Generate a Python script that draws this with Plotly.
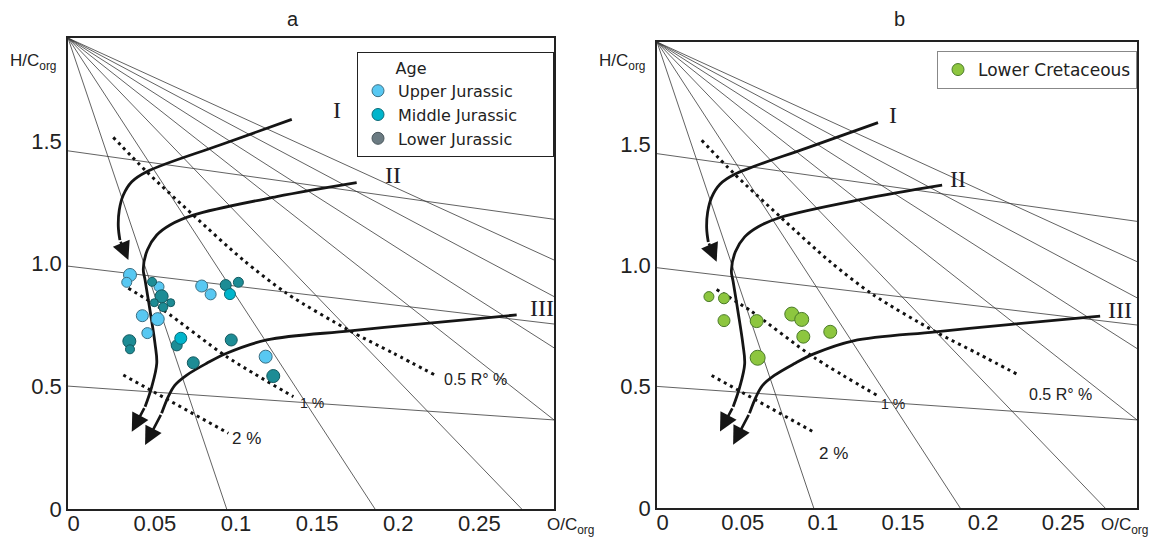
import plotly.graph_objects as go

# ---------------- data ----------------
X_RANGE = [-0.0035, 0.296]
Y_RANGE = [0.0, 1.92]
X_TICKS = [0, 0.05, 0.1, 0.15, 0.2, 0.25]
X_TICKTEXT = ["0", "0.05", "0.1", "0.15", "0.2", "0.25"]
Y_TICKS = [0, 0.5, 1.0, 1.5]
Y_TICKTEXT = ["0", "0.5", "1.0", "1.5"]

# panel a samples (O/C, H/C)
UPPER_X = [0.0347, 0.0327, 0.0526, 0.0789, 0.0844, 0.0423, 0.0518, 0.0454, 0.1183]
UPPER_Y = [0.954, 0.924, 0.906, 0.909, 0.875, 0.788, 0.774, 0.717, 0.621]
UPPER_S = [13, 10, 10, 12, 11, 12, 13, 11, 13]
MIDDLE_X = [0.0963, 0.0660]
MIDDLE_Y = [0.876, 0.696]
MIDDLE_S = [11, 12]
LOWER_X = [0.0483, 0.0542, 0.0497, 0.0552, 0.0598, 0.0937, 0.1015, 0.0343, 0.0347, 0.0635, 0.0971, 0.0737, 0.1230]
LOWER_Y = [0.926, 0.867, 0.841, 0.823, 0.841, 0.913, 0.924, 0.684, 0.651, 0.667, 0.689, 0.596, 0.542]
LOWER_S = [9, 13, 8, 9, 8, 11, 10, 13, 9, 11, 12, 12, 13]

# panel b samples
CRET_X = [0.0289, 0.0383, 0.0383, 0.0587, 0.0806, 0.0868, 0.0878, 0.1046, 0.0593]
CRET_Y = [0.871, 0.864, 0.772, 0.770, 0.799, 0.777, 0.706, 0.726, 0.619]
CRET_S = [10, 11, 12, 13, 14, 14, 13, 13, 15]

# background diagram: rays from the upper-left corner
RAY_END_X = [0.0943, 0.1857, 0.2761, 0.296, 0.296, 0.296, 0.296]
RAY_END_Y = [0.0, 0.0, 0.0, 0.363, 0.657, 0.866, 1.015]
# near-horizontal iso-lines (left y, right y)
ISO_Y_LEFT = [1.460, 0.990, 0.501]
ISO_Y_RIGHT = [1.181, 0.754, 0.363]

# evolution paths I, II, III (last point = arrow tip)
PATH_I_X = [0.1344, 0.0902, 0.0450, 0.0358, 0.0306, 0.0281, 0.0275, 0.0285, 0.0337]
PATH_I_Y = [1.588, 1.484, 1.375, 1.334, 1.280, 1.219, 1.151, 1.096, 1.015]
PATH_II_X = [0.1744, 0.1251, 0.0737, 0.0594, 0.0512, 0.0454, 0.0429, 0.0440, 0.0470, 0.0501, 0.0512, 0.0481, 0.0440, 0.0358]
PATH_II_Y = [1.330, 1.273, 1.198, 1.158, 1.117, 1.056, 0.977, 0.933, 0.811, 0.675, 0.594, 0.498, 0.417, 0.315]
PATH_III_X = [0.2730, 0.2176, 0.1703, 0.1190, 0.0943, 0.0820, 0.0697, 0.0624, 0.0583, 0.0542, 0.0440]
PATH_III_Y = [0.791, 0.757, 0.726, 0.689, 0.635, 0.594, 0.546, 0.505, 0.458, 0.390, 0.261]

# vitrinite reflectance iso-lines (dotted)
RO05_X = [0.0244, 0.0450, 0.0737, 0.1045, 0.1313, 0.1703, 0.1970, 0.2227]
RO05_Y = [1.515, 1.375, 1.198, 1.015, 0.879, 0.726, 0.635, 0.546]
RO1_X = [0.0337, 0.0552, 0.0943, 0.1354]
RO1_Y = [0.900, 0.811, 0.621, 0.458]
RO2_X = [0.0306, 0.0953]
RO2_Y = [0.546, 0.309]

PATH_LABELS = ["I", "II", "III"]
PATH_LABEL_A = [(0.1621, 1.626), (0.1970, 1.361), (0.2884, 0.818)]
PATH_LABEL_B = [(0.1436, 1.620), (0.1845, 1.354), (0.2854, 0.816)]
RO_LABELS = ["0.5 R° %", "1 %", "2 %"]
RO_LABEL_A = [(0.2268, 0.526), (0.1467, 0.431), (0.1066, 0.288)]
RO_LABEL_B = [(0.2272, 0.466), (0.1440, 0.428), (0.1065, 0.225)]
RO_LABEL_SIZE = [16, 14, 17]

LEGEND_A_NAMES = ["Upper Jurassic", "Middle Jurassic", "Lower Jurassic"]
LEGEND_B_NAME = "Lower Cretaceous"

# ---------------- styles ----------------
C_UPPER, C_UPPER_LN = "#58C8F2", "#3B6E82"
C_MIDDLE, C_MIDDLE_LN = "#00B5CC", "#0B6A78"
C_LOWER, C_LOWER_LN = "#1D8C95", "#145A60"
C_LOWER_LEG = "#6B7B82"
C_CRET, C_CRET_LN = "#8DC63F", "#4B7A2A"
SANS = "Liberation Sans, Arial, sans-serif"
SERIF = "Liberation Serif, Times New Roman, serif"
LEGF = "DejaVu Sans, Verdana, sans-serif"

W, H = 1151, 539
DOM_A = ([68 / W, 554 / W], [30 / H, 501 / H])
DOM_B = ([657 / W, 1137 / W], [31 / H, 497 / H])

fig = go.Figure()


def add_diagram(xa, ya):
    rx, ry = [], []
    for ex, ey in zip(RAY_END_X, RAY_END_Y):
        rx += [X_RANGE[0], ex, None]
        ry += [Y_RANGE[1], ey, None]
    for yl, yr in zip(ISO_Y_LEFT, ISO_Y_RIGHT):
        rx += [X_RANGE[0], X_RANGE[1], None]
        ry += [yl, yr, None]
    fig.add_trace(go.Scatter(x=rx, y=ry, mode="lines", xaxis=xa, yaxis=ya,
                             line=dict(color="#3a3a3a", width=0.8),
                             showlegend=False, hoverinfo="skip"))
    for dx, dy in [(RO05_X, RO05_Y), (RO1_X, RO1_Y), (RO2_X, RO2_Y)]:
        fig.add_trace(go.Scatter(x=dx, y=dy, mode="lines", xaxis=xa, yaxis=ya,
                                 line=dict(color="#111", width=3, dash="3px,4px",
                                           shape="spline", smoothing=0.8),
                                 showlegend=False, hoverinfo="skip"))
    for px, py in [(PATH_I_X, PATH_I_Y), (PATH_II_X, PATH_II_Y), (PATH_III_X, PATH_III_Y)]:
        fig.add_trace(go.Scatter(x=px[:-1], y=py[:-1], mode="lines", xaxis=xa, yaxis=ya,
                                 line=dict(color="#151515", width=2.8,
                                           shape="spline", smoothing=1.0),
                                 showlegend=False, hoverinfo="skip"))
        fig.add_annotation(x=px[-1], y=py[-1], ax=px[-2], ay=py[-2],
                           xref=xa, yref=ya, axref=xa, ayref=ya, text="",
                           showarrow=True, arrowhead=2, arrowsize=1.4,
                           arrowwidth=2.6, arrowcolor="#151515", standoff=0)


def add_labels(xa, ya, path_pos, ro_pos):
    for t, (lx, ly) in zip(PATH_LABELS, path_pos):
        fig.add_annotation(x=lx, y=ly, xref=xa, yref=ya, text=t, showarrow=False,
                           xanchor="center", yanchor="middle",
                           font=dict(family=SERIF, size=24, color="#222"))
    for i, (t, (lx, ly)) in enumerate(zip(RO_LABELS, ro_pos)):
        fig.add_annotation(x=lx, y=ly, xref=xa, yref=ya, text=t, showarrow=False,
                           xanchor="left" if i == 0 else "center", yanchor="middle",
                           font=dict(family=SANS, size=RO_LABEL_SIZE[i], color="#222"))


def add_points(xs, ys, ss, fill, ln, xa, ya, name):
    fig.add_trace(go.Scatter(x=xs, y=ys, mode="markers", xaxis=xa, yaxis=ya, name=name,
                             marker=dict(size=ss, color=fill, opacity=1,
                                         line=dict(color=ln, width=1)),
                             showlegend=False))


# panel a
add_diagram("x", "y")
add_points(UPPER_X, UPPER_Y, UPPER_S, C_UPPER, C_UPPER_LN, "x", "y", LEGEND_A_NAMES[0])
add_points(LOWER_X, LOWER_Y, LOWER_S, C_LOWER, C_LOWER_LN, "x", "y", LEGEND_A_NAMES[2])
add_points(MIDDLE_X, MIDDLE_Y, MIDDLE_S, C_MIDDLE, C_MIDDLE_LN, "x", "y", LEGEND_A_NAMES[1])
for i, (col, lc) in enumerate([(C_UPPER, C_UPPER_LN), (C_MIDDLE, C_MIDDLE_LN),
                               (C_LOWER_LEG, "#4a575c")]):
    label = LEGEND_A_NAMES[i] + ("&nbsp;" * 6 if i == 1 else "")
    fig.add_trace(go.Scatter(x=[None], y=[None], mode="markers", name=label,
                             xaxis="x", yaxis="y", legend="legend",
                             marker=dict(size=12, color=col, line=dict(color=lc, width=1))))
add_labels("x", "y", PATH_LABEL_A, RO_LABEL_A)

# panel b
add_diagram("x2", "y2")
add_points(CRET_X, CRET_Y, CRET_S, C_CRET, C_CRET_LN, "x2", "y2", LEGEND_B_NAME)
fig.add_trace(go.Scatter(x=[None], y=[None], mode="markers", name=LEGEND_B_NAME,
                         xaxis="x2", yaxis="y2", legend="legend2",
                         marker=dict(size=12, color=C_CRET, line=dict(color=C_CRET_LN, width=1))))
add_labels("x2", "y2", PATH_LABEL_B, RO_LABEL_B)

axis_common = dict(showgrid=False, zeroline=False, showline=True, mirror=True,
                   linecolor="#222", linewidth=1.6, ticks="", automargin=False,
                   tickfont=dict(family=SANS, size=22, color="#222"))
xaxis_extra = dict(ticklabelstandoff=-6)
fig.update_layout(
    width=W, height=H, margin=dict(l=0, r=0, t=0, b=0, autoexpand=False),
    paper_bgcolor="white", plot_bgcolor="white", hovermode=False,
    xaxis=dict(domain=DOM_A[0], range=X_RANGE, tickvals=X_TICKS, ticktext=X_TICKTEXT,
               anchor="y", **axis_common, **xaxis_extra),
    yaxis=dict(domain=DOM_A[1], range=Y_RANGE, tickvals=Y_TICKS, ticktext=Y_TICKTEXT,
               anchor="x", **axis_common),
    xaxis2=dict(domain=DOM_B[0], range=X_RANGE, tickvals=X_TICKS, ticktext=X_TICKTEXT,
                anchor="y2", **axis_common, **xaxis_extra),
    yaxis2=dict(domain=DOM_B[1], range=Y_RANGE, tickvals=Y_TICKS, ticktext=Y_TICKTEXT,
                anchor="x2", **axis_common),
    legend=dict(x=554 / W, y=(H - 52) / H, xanchor="right", yanchor="top",
                bgcolor="white", bordercolor="#222", borderwidth=1,
                font=dict(family=LEGF, size=16, color="#222"),
                title=dict(text="&nbsp;" * 7 + "Age",
                           font=dict(family=LEGF, size=16, color="#222"))),
    legend2=dict(x=1137 / W, y=(H - 51) / H, xanchor="right", yanchor="top",
                 bgcolor="white", bordercolor="#888", borderwidth=1,
                 font=dict(family=LEGF, size=17, color="#222")),
)

# titles and axis captions
for t, xp in [("a", 293), ("b", 899)]:
    fig.add_annotation(x=xp / W, y=(H - 19) / H, xref="paper", yref="paper", text=t,
                       xanchor="center", yanchor="middle",
                       showarrow=False, font=dict(family=SANS, size=20, color="#222"))
for xp in [8, 597]:
    fig.add_annotation(x=xp / W, y=(H - 62) / H, xref="paper", yref="paper",
                       text="H/C<sub>org</sub>", xanchor="left", yanchor="middle",
                       showarrow=False, font=dict(family=SANS, size=17, color="#222"))
for xp in [545, 1099]:
    fig.add_annotation(x=xp / W, y=(H - 526) / H, xref="paper", yref="paper",
                       text="O/C<sub>org</sub>", xanchor="left", yanchor="middle",
                       showarrow=False, font=dict(family=SANS, size=17, color="#222"))

fig.write_html("out.html", config={"displayModeBar": False},
               post_script="document.body.style.margin='0px';")
